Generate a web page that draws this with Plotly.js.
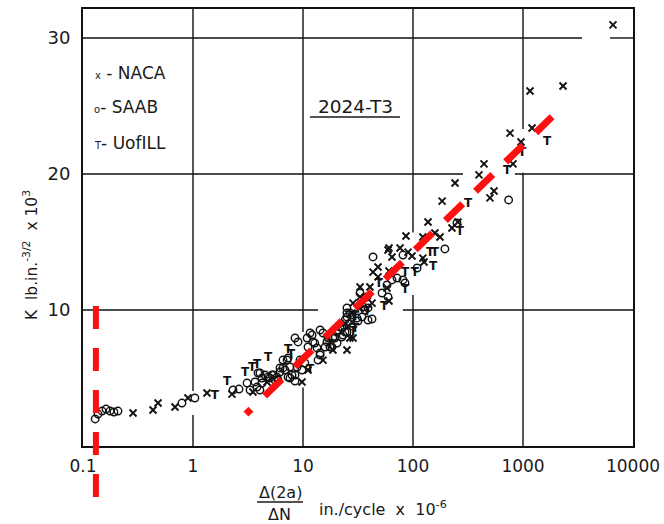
<!DOCTYPE html>
<html><head><meta charset="utf-8">
<script src="https://cdn.plot.ly/plotly-3.0.1.min.js"></script>
<style>html,body{margin:0;padding:0;background:#fff}#chart{width:664px;height:524px}</style>
</head><body><div id="chart"></div>
<script>
// ---- tick labels ----
const xTickVals = [0.1, 1, 10, 100, 1000, 10000];
const xTickText = ['0.1', '1', '10', '100', '1000', '10000'];
const yTickVals = [10, 20, 30];
const yTickText = ['10', '20', '30'];

// ---- NACA (x) ----
const nacaX = [0.285,0.433,0.481,0.686,0.90,1.34,2.26,3.51,4.71,9.79,11.1,15.2,18.7,25.1,24.1,26.7,28.5,25.6,27.9,28.5,27.9,33.0,33.0,33.0,40.6,42.4,43.3,48.1,48.1,59.3,60.5,64.4,76.2,90.1,98.0,60.5,58.0,60.5,123,126,86.3,123,137,158,176,226,256,184,241,398,442,501,545,811,762,959,1208,1158,2312,6580];
const nacaY = [2.43,2.65,3.16,2.87,3.53,3.90,3.82,3.97,4.71,4.71,5.59,6.32,7.06,7.06,9.04,7.94,7.94,8.75,9.78,10.51,9.12,10.15,10.96,11.69,11.69,10.51,12.79,13.16,12.43,14.41,14.56,13.9,14.56,14.26,13.97,12.87,11.62,10.66,13.82,13.53,15.44,15.37,16.47,15.66,15.37,16.03,16.47,18.01,19.34,19.93,20.74,18.24,18.75,20.74,23.01,22.35,23.38,26.1,26.47,30.96];

// ---- SAAB (o) ----
const saabX = [0.129,0.137,0.149,0.162,0.176,0.191,0.208,0.794,1.04,2.31,2.62,3.10,3.30,3.82,4.06,3.66,4.24,4.06,4.24,4.52,4.81,5.23,5.80,6.18,3.90,5.56,7.16,7.62,6.86,8.82,7.94,7.31,6.58,7.62,8.46,9.79,9.39,10.4,8.46,6.58,7.31,6.18,5.40,5.00,5.93,8.46,9.01,11.1,10.9,12.1,12.3,13.4,14.3,13.7,14.3,15.2,16.5,17.6,19.5,20.4,23.1,21.7,25.1,31.0,34.4,39.0,42.4,31.6,22.6,24.1,20.8,18.7,11.6,12.8,14.3,16.9,18.3,15.9,20.4,22.6,25.1,27.9,25.1,24.1,33.0,36.6,38.2,25.1,26.7,35.1,39.0,43.3,58.0,52.3,59.3,64.4,71.6,81.1,84.6,81.1,109,195,251,740];
const saabY = [1.99,2.35,2.57,2.72,2.57,2.5,2.57,3.16,3.53,4.12,4.19,4.63,4.12,4.34,4.12,4.71,4.63,5.37,5.0,5.22,5.07,5.22,5.07,5.44,5.37,4.85,6.32,5.81,5.59,5.81,5.22,5.07,5.74,5.0,5.22,5.59,6.32,6.1,4.78,6.32,6.47,5.74,5.22,5.0,4.85,7.94,7.65,7.28,7.94,8.16,7.65,7.21,6.69,6.32,8.53,8.31,7.65,7.28,7.94,7.57,8.16,8.75,9.49,9.41,9.49,9.26,9.34,9.19,8.01,8.38,8.53,7.94,8.31,7.57,6.84,7.94,7.28,7.28,8.38,8.68,8.38,9.63,9.78,9.26,11.25,10.0,10.96,10.15,9.78,10.22,10.15,13.9,11.84,11.25,10.96,12.21,12.35,12.21,11.99,14.04,13.09,14.49,16.4,18.09];

// ---- UofILL (T) ----
const illX = [1.58,2.04,2.97,3.44,3.82,4.81,7.31,7.78,11.6,17.6,28.5,29.7,29.7,38.2,49,54.5,84.6,84.6,104,143,158,152,267,316,716,979,1652];
const illY = [3.68,4.71,5.37,5.74,5.96,6.47,7.06,6.69,5.59,7.43,8.38,9.49,8.6,9.85,11.9,10.22,12.72,11.47,12.72,14.19,14.19,13.16,15.74,17.79,20.22,21.54,22.35];

// ---- red dashed lines ----
const fitX = [3.03, 1836];
const fitY = [2.35, 24.2];
const limitX = [0.131, 0.131];
const limitY = [10.3, -3.75];

// ---- grid lines (with the gaps left around the data in the original) ----
const gridH = [
  {y: 10, segs: [[0.1, 13.7], [81, 10000]]},
  {y: 20, segs: [[0.1, 285], [845, 10000]]},
  {y: 30, segs: [[0.1, 3436], [6180, 10000]]}
];
const gridV = [
  {x: 1, segs: [[0, 2.28], [4.04, 32.13]]},
  {x: 10, segs: [[0, 4.3], [8.38, 32.13]]},
  {x: 100, segs: [[0, 11.1], [15.7, 32.13]]},
  {x: 1000, segs: [[0, 20.1], [23.3, 32.13]]}
];

const gx = [], gy = [];
gridH.forEach(g => g.segs.forEach(s => { gx.push(s[0], s[1], null); gy.push(g.y, g.y, null); }));
gridV.forEach(g => g.segs.forEach(s => { gx.push(g.x, g.x, null); gy.push(s[0], s[1], null); }));

const yRange = [0, 32.13];
const yDom = [0.1277, 1];
const upf = (yRange[1] - yRange[0]) / (yDom[1] - yDom[0]);
const y2Range = [yRange[1] - upf * yDom[1], yRange[1] + upf * (1 - yDom[1])];

// pixel helpers for text placement
const L = 83, R = 31, T = 9, B = 14, W = 664, H = 524;
const PW = W - L - R, PH = H - T - B;
const px = v => (v - L) / PW;
const py = v => (H - B - v) / PH;

const FONT = 'DejaVu Sans';
const traces = [
  {x: gx, y: gy, mode: 'lines', line: {color: '#111', width: 1.4}, hoverinfo: 'skip', connectgaps: false},
  {x: nacaX, y: nacaY, mode: 'markers', name: 'NACA',
   marker: {symbol: 'x-thin-open', size: 7, color: '#111', line: {color: '#111', width: 1.9}}},
  {x: saabX, y: saabY, mode: 'markers', name: 'SAAB',
   marker: {symbol: 'circle-open', size: 7.5, color: '#111', line: {color: '#111', width: 1.4}}},
  {x: illX, y: illY, mode: 'text', name: 'UofILL', text: illX.map(() => 'T'),
   textposition: 'middle center', textfont: {family: FONT, size: 12, color: '#111', weight: 'bold'}},
  {x: fitX, y: fitY, mode: 'lines', hoverinfo: 'skip',
   line: {color: '#ff1010', width: 7,
     dash: '7px,19px,24px,18px,24px,18px,24px,18px,24px,18px,24px,18px,24px,18px,24px,18px,24px,18px,24px,18px,24px,18px'}},
  {x: limitX, y: limitY, xaxis: 'x', yaxis: 'y2', mode: 'lines', hoverinfo: 'skip',
   line: {color: '#ff1010', width: 6, dash: '23px,19px'}}
];

const ann = (x, y, text, size, opts) => Object.assign({
  xref: 'paper', yref: 'paper', x: px(x), y: py(y), text: text, showarrow: false,
  font: {family: FONT, size: size, color: '#1a1a1a'}, xanchor: 'center', yanchor: 'middle'
}, opts || {});

const layout = {
  width: W, height: H,
  margin: {l: L, r: R, t: T, b: B, pad: 0},
  paper_bgcolor: '#fff', plot_bgcolor: 'rgba(0,0,0,0)',
  showlegend: false, hovermode: false,
  xaxis: {type: 'log', range: [-1, 4], tickvals: xTickVals, ticktext: xTickText,
    showgrid: false, zeroline: false, showline: true, mirror: true, linecolor: '#111', linewidth: 2,
    ticks: '', ticklabelstandoff: 4, tickfont: {family: FONT, size: 17, color: '#1a1a1a'}, anchor: 'y'},
  yaxis: {range: yRange, domain: yDom, tickvals: yTickVals, ticktext: yTickText,
    showgrid: false, zeroline: false, showline: true, mirror: true, linecolor: '#111', linewidth: 2,
    ticks: '', ticklabelstandoff: 7, tickfont: {family: FONT, size: 18, color: '#1a1a1a'}, anchor: 'x'},
  yaxis2: {range: y2Range, domain: [0, 1], visible: false, anchor: 'x', fixedrange: true},
  annotations: [
    ann(93, 73, '<span style="font-size:10px">x</span> - NACA', 17, {xanchor: 'left'}),
    ann(92, 107, '<span style="font-size:10px">o</span>- SAAB', 17, {xanchor: 'left'}),
    ann(92, 143, '<span style="font-size:10px">T</span>- UofILL', 17, {xanchor: 'left'}),
    ann(355, 106, '2024-T3', 18.5),
    ann(30, 255, 'K  lb.in.<sup>-3/2</sup>  x 10<sup>3</sup>', 15.5, {textangle: -90}),
    ann(280, 492, 'Δ(2a)', 16),
    ann(279, 514, 'ΔN', 16),
    ann(317, 508, 'in./cycle  x  10<sup>-6</sup>', 16, {xanchor: 'left'})
  ],
  shapes: [
    {type: 'line', xref: 'paper', yref: 'paper', x0: px(310), x1: px(400), y0: py(117), y1: py(117),
     line: {color: '#1a1a1a', width: 1.5}},
    {type: 'line', xref: 'paper', yref: 'paper', x0: px(257), x1: px(303), y0: py(502), y1: py(502),
     line: {color: '#1a1a1a', width: 1.5}}
  ]
};

Plotly.newPlot('chart', traces, layout, {staticPlot: true, displayModeBar: false});
</script>
</body></html>
